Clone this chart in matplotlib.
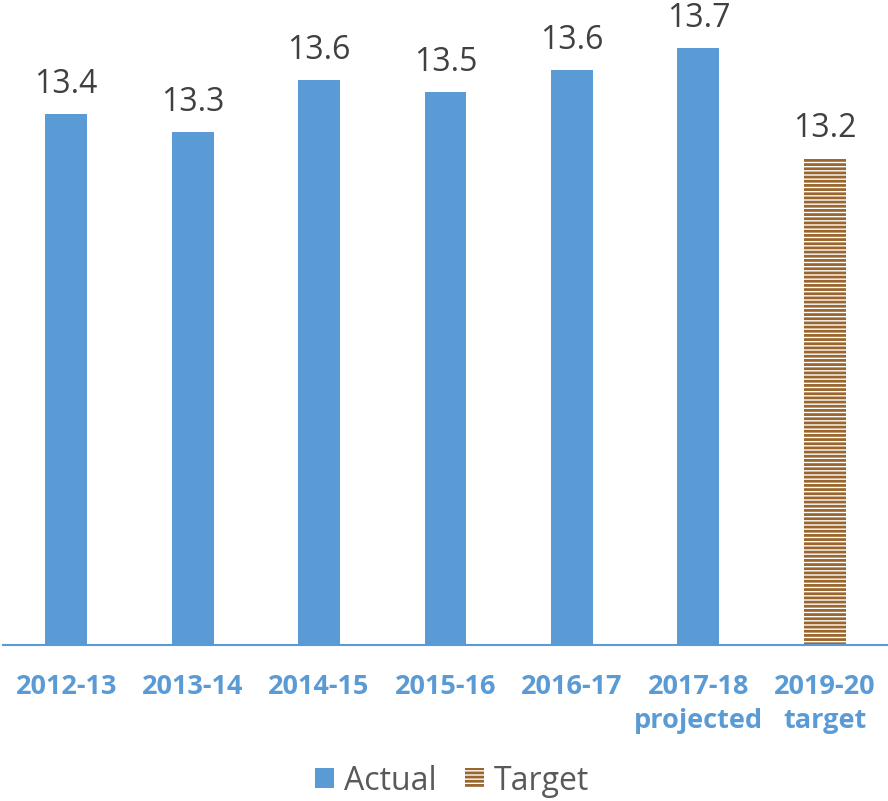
import matplotlib
matplotlib.use("Agg")
from matplotlib import pyplot as plt
from matplotlib.patches import Patch

# data
categories = ["2012-13", "2013-14", "2014-15", "2015-16", "2016-17",
              "2017-18\nprojected", "2019-20\ntarget"]
values = [13.4, 13.32, 13.555, 13.5, 13.6, 13.7, 13.2]
is_target = [False, False, False, False, False, False, True]

BLUE = "#5B9BD5"
BROWN = "#9A662E"

plt.rcParams['font.family'] = ['Open Sans', 'DejaVu Sans']
plt.rcParams['hatch.linewidth'] = 2.0

fig = plt.figure(figsize=(8.88, 8.01), dpi=100)
ax = fig.add_axes([3 / 888, 156 / 801, 885 / 888, 645 / 801])

x = list(range(len(categories)))
for xi, v, t in zip(x, values, is_target):
    if t:
        ax.bar(xi, v - 11, 0.33, bottom=11, color="white", edgecolor=BROWN,
               linewidth=0, hatch="----")
    else:
        ax.bar(xi, v - 11, 0.33, bottom=11, color=BLUE)
    ax.text(xi, v + 0.06, "%.1f" % v, ha="center", va="bottom",
            fontsize=23, color="#404040", clip_on=False)

ax.set_xlim(-0.5, len(categories) - 0.5)
ax.set_ylim(11, 11 + 645 / 221.1)
ax.set_yticks([])
for s in ["top", "right", "left"]:
    ax.spines[s].set_visible(False)
ax.spines["bottom"].set_color(BLUE)
ax.spines["bottom"].set_linewidth(1.5)
ax.set_xticks(x)
ax.set_xticklabels(categories, fontsize=19.5, fontweight="bold", color=BLUE,
                   linespacing=1.4)
ax.tick_params(axis="x", length=0, pad=21)

handles = [Patch(facecolor=BLUE, label="Actual"),
           Patch(facecolor="white", edgecolor=BROWN, linewidth=0,
                 hatch="----", label="Target")]
leg = fig.legend(handles=handles, loc="center", bbox_to_anchor=(452 / 888, 1 - 781 / 801),
                 ncol=2, frameon=False, fontsize=23, handlelength=0.6,
                 handleheight=0.6, handletextpad=0.3, columnspacing=0.9)
for t in leg.get_texts():
    t.set_color("#595959")

fig.savefig("out.png", dpi=100)
